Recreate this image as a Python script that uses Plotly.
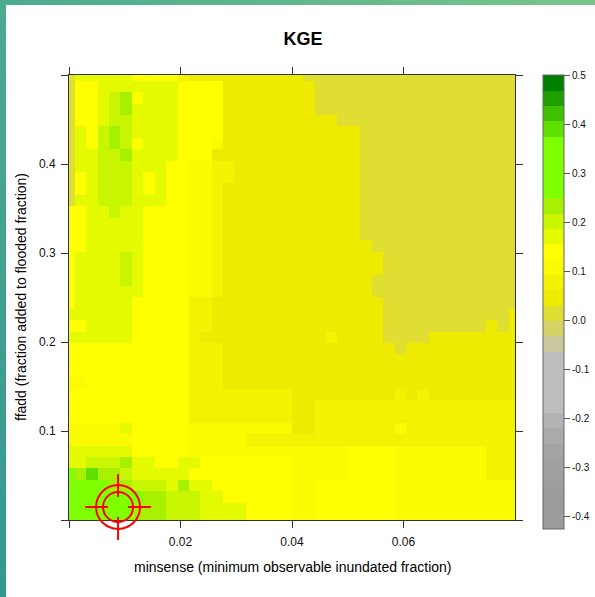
import plotly.graph_objects as go

# ---------------- data ----------------
minsense = [0.0, 0.00205, 0.0041, 0.00615, 0.00821, 0.01026, 0.01231, 0.01436, 0.01641, 0.01846,
            0.02051, 0.02256, 0.02462, 0.02667, 0.02872, 0.03077, 0.03282, 0.03487, 0.03692, 0.03897,
            0.04103, 0.04308, 0.04513, 0.04718, 0.04923, 0.05128, 0.05333, 0.05538, 0.05744, 0.05949,
            0.06154, 0.06359, 0.06564, 0.06769, 0.06974, 0.0718, 0.07385, 0.0759, 0.07795, 0.08]

# rows listed from top (ffadd = 0.5) to bottom (ffadd = 0)
ffadd = [0.5, 0.48718, 0.47436, 0.46154, 0.44872, 0.4359, 0.42308, 0.41026, 0.39744, 0.38462,
         0.37179, 0.35897, 0.34615, 0.33333, 0.32051, 0.30769, 0.29487, 0.28205, 0.26923, 0.25641,
         0.24359, 0.23077, 0.21795, 0.20513, 0.19231, 0.17949, 0.16667, 0.15385, 0.14103, 0.12821,
         0.11538, 0.10256, 0.08974, 0.07692, 0.0641, 0.05128, 0.03846, 0.02564, 0.01282, 0.0]

kge_r39 = [0.02, 0.17, 0.17, 0.17, 0.17, 0.17, 0.14, 0.14, 0.14, 0.14,
           0.08, 0.05, 0.05, 0.05, 0.05, 0.05, 0.05, 0.05, 0.05, 0.05,
           0.05, 0.02, 0.02, 0.02, 0.02, 0.02, 0.02, 0.02, 0.02, 0.02,
           0.02, 0.02, 0.02, 0.02, 0.02, 0.02, 0.02, 0.02, 0.02, 0.02]
kge_r38 = [0.02, 0.14, 0.14, 0.17, 0.17, 0.17, 0.17, 0.17, 0.17, 0.17,
           0.14, 0.14, 0.14, 0.14, 0.05, 0.05, 0.05, 0.05, 0.05, 0.05,
           0.05, 0.05, 0.02, 0.02, 0.02, 0.02, 0.02, 0.02, 0.02, 0.02,
           0.02, 0.02, 0.02, 0.02, 0.02, 0.02, 0.02, 0.02, 0.02, 0.02]
kge_r37 = [0.02, 0.14, 0.14, 0.17, 0.2, 0.24, 0.14, 0.17, 0.17, 0.17,
           0.14, 0.14, 0.14, 0.14, 0.05, 0.05, 0.05, 0.05, 0.05, 0.05,
           0.05, 0.05, 0.02, 0.02, 0.02, 0.02, 0.02, 0.02, 0.02, 0.02,
           0.02, 0.02, 0.02, 0.02, 0.02, 0.02, 0.02, 0.02, 0.02, 0.02]
kge_r36 = [0.02, 0.14, 0.14, 0.17, 0.2, 0.24, 0.17, 0.17, 0.17, 0.17,
           0.14, 0.14, 0.14, 0.14, 0.05, 0.05, 0.05, 0.05, 0.05, 0.05,
           0.05, 0.05, 0.02, 0.02, 0.02, 0.02, 0.02, 0.02, 0.02, 0.02,
           0.02, 0.02, 0.02, 0.02, 0.02, 0.02, 0.02, 0.02, 0.02, 0.02]
kge_r35 = [0.02, 0.14, 0.14, 0.17, 0.2, 0.2, 0.17, 0.17, 0.17, 0.17,
           0.14, 0.14, 0.14, 0.14, 0.05, 0.05, 0.05, 0.05, 0.05, 0.05,
           0.05, 0.05, 0.05, 0.05, 0.02, 0.02, 0.02, 0.02, 0.02, 0.02,
           0.02, 0.02, 0.02, 0.02, 0.02, 0.02, 0.02, 0.02, 0.02, 0.02]
kge_r34 = [0.02, 0.17, 0.14, 0.2, 0.24, 0.2, 0.17, 0.17, 0.17, 0.17,
           0.14, 0.14, 0.14, 0.14, 0.05, 0.05, 0.05, 0.05, 0.05, 0.05,
           0.05, 0.05, 0.05, 0.05, 0.05, 0.05, 0.02, 0.02, 0.02, 0.02,
           0.02, 0.02, 0.02, 0.02, 0.02, 0.02, 0.02, 0.02, 0.02, 0.02]
kge_r33 = [0.02, 0.17, 0.14, 0.2, 0.24, 0.2, 0.14, 0.17, 0.17, 0.17,
           0.14, 0.14, 0.14, 0.11, 0.05, 0.05, 0.05, 0.05, 0.05, 0.05,
           0.05, 0.05, 0.05, 0.05, 0.05, 0.05, 0.02, 0.02, 0.02, 0.02,
           0.02, 0.02, 0.02, 0.02, 0.02, 0.02, 0.02, 0.02, 0.02, 0.02]
kge_r32 = [0.02, 0.17, 0.17, 0.2, 0.2, 0.24, 0.17, 0.17, 0.17, 0.17,
           0.14, 0.14, 0.14, 0.05, 0.05, 0.05, 0.05, 0.05, 0.05, 0.05,
           0.05, 0.05, 0.05, 0.05, 0.05, 0.05, 0.02, 0.02, 0.02, 0.02,
           0.02, 0.02, 0.02, 0.02, 0.02, 0.02, 0.02, 0.02, 0.02, 0.02]
kge_r31 = [0.02, 0.17, 0.17, 0.2, 0.2, 0.2, 0.17, 0.17, 0.17, 0.14,
           0.14, 0.11, 0.11, 0.08, 0.08, 0.05, 0.05, 0.05, 0.05, 0.05,
           0.05, 0.05, 0.05, 0.05, 0.05, 0.05, 0.02, 0.02, 0.02, 0.02,
           0.02, 0.02, 0.02, 0.02, 0.02, 0.02, 0.02, 0.02, 0.02, 0.02]
kge_r30 = [0.02, 0.14, 0.17, 0.2, 0.2, 0.2, 0.17, 0.14, 0.17, 0.14,
           0.14, 0.11, 0.11, 0.08, 0.08, 0.05, 0.05, 0.05, 0.05, 0.05,
           0.05, 0.05, 0.05, 0.05, 0.05, 0.05, 0.02, 0.02, 0.02, 0.02,
           0.02, 0.02, 0.02, 0.02, 0.02, 0.02, 0.02, 0.02, 0.02, 0.02]
kge_r29 = [0.02, 0.14, 0.17, 0.2, 0.2, 0.2, 0.17, 0.14, 0.17, 0.14,
           0.14, 0.11, 0.11, 0.08, 0.05, 0.05, 0.05, 0.05, 0.05, 0.05,
           0.05, 0.05, 0.05, 0.05, 0.05, 0.05, 0.02, 0.02, 0.02, 0.02,
           0.02, 0.02, 0.02, 0.02, 0.02, 0.02, 0.02, 0.02, 0.02, 0.02]
kge_r28 = [0.02, 0.17, 0.17, 0.2, 0.2, 0.2, 0.17, 0.17, 0.17, 0.14,
           0.14, 0.11, 0.11, 0.08, 0.05, 0.05, 0.05, 0.05, 0.05, 0.05,
           0.05, 0.05, 0.05, 0.05, 0.05, 0.05, 0.02, 0.02, 0.02, 0.02,
           0.02, 0.02, 0.02, 0.02, 0.02, 0.02, 0.02, 0.02, 0.02, 0.02]
kge_r27 = [0.14, 0.14, 0.17, 0.17, 0.2, 0.17, 0.17, 0.14, 0.14, 0.14,
           0.14, 0.11, 0.11, 0.08, 0.05, 0.05, 0.05, 0.05, 0.05, 0.05,
           0.05, 0.05, 0.05, 0.05, 0.05, 0.05, 0.02, 0.02, 0.02, 0.02,
           0.02, 0.02, 0.02, 0.02, 0.02, 0.02, 0.02, 0.02, 0.02, 0.02]
kge_r26 = [0.14, 0.14, 0.17, 0.17, 0.17, 0.17, 0.17, 0.14, 0.14, 0.14,
           0.14, 0.11, 0.11, 0.08, 0.05, 0.05, 0.05, 0.05, 0.05, 0.05,
           0.05, 0.05, 0.05, 0.05, 0.05, 0.05, 0.02, 0.02, 0.02, 0.02,
           0.02, 0.02, 0.02, 0.02, 0.02, 0.02, 0.02, 0.02, 0.02, 0.02]
kge_r25 = [0.14, 0.14, 0.17, 0.17, 0.17, 0.17, 0.17, 0.14, 0.14, 0.14,
           0.14, 0.11, 0.11, 0.08, 0.05, 0.05, 0.05, 0.05, 0.05, 0.05,
           0.05, 0.05, 0.05, 0.05, 0.05, 0.05, 0.02, 0.02, 0.02, 0.02,
           0.02, 0.02, 0.02, 0.02, 0.02, 0.02, 0.02, 0.02, 0.02, 0.02]
kge_r24 = [0.14, 0.14, 0.17, 0.17, 0.17, 0.17, 0.17, 0.14, 0.14, 0.14,
           0.14, 0.11, 0.11, 0.08, 0.05, 0.05, 0.05, 0.05, 0.05, 0.05,
           0.05, 0.05, 0.05, 0.05, 0.05, 0.05, 0.05, 0.02, 0.02, 0.02,
           0.02, 0.02, 0.02, 0.02, 0.02, 0.02, 0.02, 0.02, 0.02, 0.02]
kge_r23 = [0.14, 0.17, 0.17, 0.17, 0.17, 0.2, 0.17, 0.14, 0.14, 0.14,
           0.14, 0.11, 0.11, 0.08, 0.05, 0.05, 0.05, 0.05, 0.05, 0.05,
           0.05, 0.05, 0.05, 0.05, 0.05, 0.05, 0.05, 0.05, 0.02, 0.02,
           0.02, 0.02, 0.02, 0.02, 0.02, 0.02, 0.02, 0.02, 0.02, 0.02]
kge_r22 = [0.14, 0.17, 0.17, 0.17, 0.17, 0.2, 0.17, 0.14, 0.14, 0.14,
           0.14, 0.11, 0.11, 0.08, 0.05, 0.05, 0.05, 0.05, 0.05, 0.05,
           0.05, 0.05, 0.05, 0.05, 0.05, 0.05, 0.05, 0.05, 0.02, 0.02,
           0.02, 0.02, 0.02, 0.02, 0.02, 0.02, 0.02, 0.02, 0.02, 0.02]
kge_r21 = [0.14, 0.17, 0.17, 0.17, 0.17, 0.2, 0.17, 0.14, 0.14, 0.14,
           0.14, 0.11, 0.11, 0.08, 0.05, 0.05, 0.05, 0.05, 0.05, 0.05,
           0.05, 0.05, 0.05, 0.05, 0.05, 0.05, 0.05, 0.02, 0.02, 0.02,
           0.02, 0.02, 0.02, 0.02, 0.02, 0.02, 0.02, 0.02, 0.02, 0.02]
kge_r20 = [0.14, 0.17, 0.17, 0.17, 0.17, 0.17, 0.17, 0.14, 0.14, 0.14,
           0.14, 0.11, 0.11, 0.08, 0.05, 0.05, 0.05, 0.05, 0.05, 0.05,
           0.05, 0.05, 0.05, 0.05, 0.05, 0.05, 0.05, 0.02, 0.02, 0.02,
           0.02, 0.02, 0.02, 0.02, 0.02, 0.02, 0.02, 0.02, 0.02, 0.02]
kge_r19 = [0.14, 0.17, 0.17, 0.17, 0.17, 0.17, 0.14, 0.14, 0.14, 0.14,
           0.14, 0.08, 0.08, 0.05, 0.05, 0.05, 0.05, 0.05, 0.05, 0.05,
           0.05, 0.05, 0.05, 0.05, 0.05, 0.05, 0.05, 0.05, 0.02, 0.02,
           0.02, 0.02, 0.02, 0.02, 0.02, 0.02, 0.02, 0.02, 0.02, 0.02]
kge_r18 = [0.17, 0.17, 0.17, 0.17, 0.17, 0.17, 0.14, 0.14, 0.14, 0.14,
           0.14, 0.08, 0.08, 0.05, 0.05, 0.05, 0.05, 0.05, 0.05, 0.05,
           0.05, 0.05, 0.05, 0.05, 0.05, 0.05, 0.05, 0.05, 0.02, 0.02,
           0.02, 0.02, 0.02, 0.02, 0.02, 0.02, 0.02, 0.02, 0.02, 0.05]
kge_r17 = [0.14, 0.14, 0.17, 0.17, 0.17, 0.17, 0.14, 0.14, 0.14, 0.14,
           0.14, 0.08, 0.08, 0.05, 0.05, 0.05, 0.05, 0.05, 0.05, 0.05,
           0.05, 0.05, 0.05, 0.05, 0.05, 0.05, 0.05, 0.05, 0.02, 0.02,
           0.02, 0.02, 0.02, 0.02, 0.02, 0.02, 0.02, 0.05, 0.02, 0.05]
kge_r16 = [0.17, 0.17, 0.17, 0.17, 0.17, 0.17, 0.14, 0.14, 0.14, 0.14,
           0.14, 0.08, 0.05, 0.05, 0.05, 0.05, 0.05, 0.05, 0.05, 0.05,
           0.05, 0.05, 0.05, 0.08, 0.05, 0.05, 0.05, 0.05, 0.02, 0.02,
           0.02, 0.02, 0.05, 0.05, 0.05, 0.05, 0.05, 0.05, 0.05, 0.05]
kge_r15 = [0.14, 0.14, 0.14, 0.14, 0.14, 0.14, 0.14, 0.14, 0.14, 0.14,
           0.14, 0.08, 0.08, 0.08, 0.05, 0.05, 0.05, 0.05, 0.05, 0.05,
           0.05, 0.05, 0.05, 0.05, 0.05, 0.05, 0.05, 0.05, 0.05, 0.02,
           0.05, 0.05, 0.05, 0.05, 0.05, 0.05, 0.05, 0.05, 0.05, 0.05]
kge_r14 = [0.14, 0.14, 0.14, 0.14, 0.14, 0.14, 0.14, 0.14, 0.14, 0.14,
           0.14, 0.08, 0.08, 0.08, 0.05, 0.05, 0.05, 0.05, 0.05, 0.05,
           0.05, 0.05, 0.05, 0.05, 0.05, 0.05, 0.05, 0.05, 0.05, 0.05,
           0.05, 0.05, 0.05, 0.05, 0.05, 0.05, 0.05, 0.05, 0.05, 0.05]
kge_r13 = [0.14, 0.14, 0.14, 0.14, 0.14, 0.14, 0.14, 0.14, 0.14, 0.14,
           0.14, 0.08, 0.08, 0.08, 0.05, 0.05, 0.05, 0.05, 0.05, 0.05,
           0.05, 0.05, 0.05, 0.05, 0.05, 0.05, 0.05, 0.05, 0.05, 0.05,
           0.05, 0.05, 0.05, 0.05, 0.05, 0.05, 0.05, 0.05, 0.05, 0.05]
kge_r12 = [0.11, 0.11, 0.14, 0.14, 0.14, 0.14, 0.14, 0.14, 0.14, 0.14,
           0.14, 0.08, 0.08, 0.08, 0.05, 0.05, 0.05, 0.05, 0.05, 0.05,
           0.05, 0.05, 0.05, 0.05, 0.05, 0.05, 0.05, 0.05, 0.05, 0.05,
           0.05, 0.05, 0.05, 0.05, 0.05, 0.05, 0.05, 0.05, 0.05, 0.05]
kge_r11 = [0.14, 0.14, 0.14, 0.14, 0.14, 0.14, 0.14, 0.14, 0.14, 0.14,
           0.14, 0.08, 0.08, 0.08, 0.08, 0.08, 0.08, 0.08, 0.08, 0.08,
           0.05, 0.05, 0.05, 0.05, 0.05, 0.05, 0.05, 0.05, 0.05, 0.08,
           0.05, 0.08, 0.05, 0.05, 0.05, 0.05, 0.05, 0.05, 0.05, 0.05]
kge_r10 = [0.14, 0.14, 0.14, 0.14, 0.14, 0.14, 0.14, 0.14, 0.14, 0.14,
           0.14, 0.08, 0.08, 0.08, 0.08, 0.08, 0.08, 0.08, 0.08, 0.08,
           0.05, 0.05, 0.08, 0.08, 0.08, 0.08, 0.08, 0.08, 0.08, 0.08,
           0.08, 0.08, 0.08, 0.08, 0.08, 0.08, 0.08, 0.08, 0.08, 0.08]
kge_r09 = [0.14, 0.14, 0.14, 0.14, 0.14, 0.14, 0.14, 0.14, 0.14, 0.14,
           0.14, 0.08, 0.08, 0.08, 0.08, 0.08, 0.08, 0.08, 0.08, 0.08,
           0.05, 0.05, 0.08, 0.08, 0.08, 0.08, 0.08, 0.08, 0.08, 0.08,
           0.08, 0.08, 0.08, 0.08, 0.08, 0.08, 0.08, 0.08, 0.08, 0.08]
kge_r08 = [0.11, 0.11, 0.11, 0.11, 0.11, 0.17, 0.14, 0.14, 0.14, 0.14,
           0.14, 0.11, 0.11, 0.11, 0.11, 0.11, 0.11, 0.11, 0.11, 0.11,
           0.05, 0.05, 0.08, 0.08, 0.08, 0.08, 0.08, 0.08, 0.08, 0.11,
           0.08, 0.08, 0.08, 0.08, 0.08, 0.08, 0.08, 0.08, 0.08, 0.08]
kge_r07 = [0.11, 0.11, 0.11, 0.11, 0.11, 0.11, 0.14, 0.14, 0.14, 0.14,
           0.14, 0.11, 0.11, 0.11, 0.11, 0.11, 0.08, 0.08, 0.08, 0.08,
           0.08, 0.08, 0.08, 0.08, 0.08, 0.08, 0.08, 0.08, 0.08, 0.08,
           0.08, 0.08, 0.08, 0.08, 0.08, 0.08, 0.08, 0.08, 0.08, 0.08]
kge_r06 = [0.17, 0.17, 0.17, 0.17, 0.17, 0.17, 0.14, 0.14, 0.14, 0.14,
           0.14, 0.11, 0.11, 0.11, 0.11, 0.11, 0.11, 0.11, 0.11, 0.11,
           0.11, 0.11, 0.11, 0.11, 0.11, 0.14, 0.14, 0.14, 0.14, 0.11,
           0.11, 0.11, 0.11, 0.11, 0.11, 0.11, 0.11, 0.08, 0.08, 0.08]
kge_r05 = [0.17, 0.17, 0.2, 0.2, 0.2, 0.24, 0.17, 0.17, 0.14, 0.14,
           0.17, 0.17, 0.14, 0.14, 0.14, 0.14, 0.14, 0.14, 0.14, 0.14,
           0.11, 0.11, 0.11, 0.11, 0.11, 0.14, 0.14, 0.14, 0.14, 0.11,
           0.11, 0.11, 0.11, 0.11, 0.11, 0.11, 0.11, 0.08, 0.08, 0.08]
kge_r04 = [0.3, 0.24, 0.39, 0.24, 0.24, 0.2, 0.17, 0.17, 0.17, 0.17,
           0.17, 0.14, 0.14, 0.14, 0.14, 0.14, 0.14, 0.14, 0.14, 0.14,
           0.11, 0.11, 0.11, 0.11, 0.11, 0.14, 0.14, 0.14, 0.14, 0.11,
           0.11, 0.11, 0.11, 0.11, 0.11, 0.11, 0.11, 0.08, 0.08, 0.08]
kge_r03 = [0.3, 0.3, 0.3, 0.3, 0.24, 0.24, 0.2, 0.2, 0.2, 0.17,
           0.24, 0.17, 0.17, 0.14, 0.14, 0.14, 0.14, 0.14, 0.14, 0.14,
           0.11, 0.11, 0.14, 0.14, 0.14, 0.14, 0.14, 0.14, 0.14, 0.11,
           0.11, 0.11, 0.11, 0.11, 0.11, 0.11, 0.11, 0.11, 0.11, 0.11]
kge_r02 = [0.3, 0.3, 0.3, 0.3, 0.3, 0.3, 0.3, 0.24, 0.24, 0.2,
           0.2, 0.2, 0.17, 0.17, 0.14, 0.14, 0.14, 0.14, 0.14, 0.14,
           0.11, 0.11, 0.14, 0.14, 0.14, 0.14, 0.14, 0.14, 0.14, 0.11,
           0.11, 0.11, 0.11, 0.11, 0.11, 0.11, 0.11, 0.11, 0.11, 0.11]
kge_r01 = [0.3, 0.3, 0.3, 0.3, 0.3, 0.3, 0.24, 0.24, 0.24, 0.2,
           0.2, 0.2, 0.17, 0.17, 0.17, 0.17, 0.14, 0.14, 0.14, 0.14,
           0.11, 0.11, 0.14, 0.14, 0.14, 0.14, 0.14, 0.14, 0.14, 0.11,
           0.11, 0.11, 0.11, 0.11, 0.11, 0.11, 0.11, 0.11, 0.11, 0.11]
kge_r00 = [0.3, 0.3, 0.3, 0.3, 0.3, 0.3, 0.24, 0.24, 0.24, 0.2,
           0.2, 0.2, 0.17, 0.17, 0.17, 0.17, 0.14, 0.14, 0.14, 0.14,
           0.11, 0.11, 0.14, 0.14, 0.14, 0.14, 0.14, 0.14, 0.14, 0.11,
           0.11, 0.11, 0.11, 0.11, 0.11, 0.11, 0.11, 0.11, 0.11, 0.11]

kge = [kge_r39, kge_r38, kge_r37, kge_r36, kge_r35, kge_r34, kge_r33, kge_r32, kge_r31, kge_r30,
       kge_r29, kge_r28, kge_r27, kge_r26, kge_r25, kge_r24, kge_r23, kge_r22, kge_r21, kge_r20,
       kge_r19, kge_r18, kge_r17, kge_r16, kge_r15, kge_r14, kge_r13, kge_r12, kge_r11, kge_r10,
       kge_r09, kge_r08, kge_r07, kge_r06, kge_r05, kge_r04, kge_r03, kge_r02, kge_r01, kge_r00]

# colour key: 30 discrete levels (ascending)
level_breaks = [-0.4245, -0.4073, -0.376, -0.3446, -0.3133, -0.282, -0.2506, -0.2193, -0.188, -0.1566,
                -0.1253, -0.094, -0.0627, -0.0313, 0.0, 0.0313, 0.0627, 0.094, 0.1253, 0.1566,
                0.188, 0.2193, 0.2506, 0.282, 0.3133, 0.3446, 0.376, 0.4073, 0.4386, 0.47, 0.502]
level_colors = ['#9c9c9c', '#9c9c9c', '#9c9c9c', '#9e9e9e', '#a0a0a0', '#a4a4a4', '#aaaaaa', '#b3b3b3',
                '#bebebe', '#bebebe', '#bebebe', '#bebebe', '#c9c89c', '#d5d268', '#e0dd33',
                '#eeea00', '#f4f200', '#fafa00', '#ffff00', '#e4fa00', '#c8f500', '#a6f000',
                '#7fff00', '#7fff00', '#7fff00', '#7fff00', '#5fe000', '#3fc000', '#1fa000', '#008000']
key_ticks = [0.5, 0.4, 0.3, 0.2, 0.1, 0.0, -0.1, -0.2, -0.3, -0.4]

x_tickvals = [0.0, 0.02, 0.04, 0.06]
x_ticktext = ['', '0.02', '0.04', '0.06']
y_tickvals = [0.0, 0.1, 0.2, 0.3, 0.4, 0.5]
y_ticktext = ['', '0.1', '0.2', '0.3', '0.4', '']

best_minsense = 0.0088
best_ffadd = 0.0146

x_range = [0.0, 0.08]
y_range = [0.0, 0.5]

# ---------------- figure ----------------
for r in kge:
    assert len(r) == 40, len(r)

zmin, zmax = level_breaks[0], level_breaks[-1]
colorscale = []
for k, col in enumerate(level_colors):
    lo = (level_breaks[k] - zmin) / (zmax - zmin)
    hi = (level_breaks[k + 1] - zmin) / (zmax - zmin)
    colorscale.append([max(0.0, min(1.0, lo)), col])
    colorscale.append([max(0.0, min(1.0, hi)), col])
colorscale[0][0] = 0.0
colorscale[-1][0] = 1.0

FONT = "Liberation Sans, Arial, sans-serif"
W, H = 595, 597
L, R, T, B = 69, 80, 75, 77
PW, PH = W - L - R, H - T - B


def px_x(px):
    return (px - L) / PW


def px_y(py):
    return (H - B - py) / PH


fig = go.Figure()
fig.add_trace(go.Heatmap(
    x=minsense, y=ffadd, z=kge,
    zmin=zmin, zmax=zmax, colorscale=colorscale, zsmooth=False,
    hoverinfo='skip',
    colorbar=dict(
        x=px_x(543), xanchor='left', xpad=0,
        y=1.0, yanchor='top', ypad=0,
        thickness=21, thicknessmode='pixels',
        len=454, lenmode='pixels',
        outlinewidth=1, outlinecolor='#666666',
        tickvals=key_ticks, ticktext=['%.1f' % v for v in key_ticks],
        ticks='outside', ticklen=6, tickcolor='#555555',
        tickfont=dict(family=FONT, size=10, color='#111111'),
    ),
))

# frame (teal-green gradient border at top and left)
shapes = []
c_tl, c_tr, c_bl = (74, 171, 143), (122, 196, 138), (52, 152, 143)
N = 40
for k in range(N):
    t = (k + 0.5) / N
    col = tuple(int(round(c_tl[i] + (c_tr[i] - c_tl[i]) * t)) for i in range(3))
    shapes.append(dict(type='rect', xref='paper', yref='paper', layer='below',
                       x0=px_x(W * k / N), x1=px_x(W * (k + 1) / N + 1),
                       y0=px_y(5), y1=px_y(0), fillcolor='rgb(%d,%d,%d)' % col, line_width=0))
    col2 = tuple(int(round(c_tl[i] + (c_bl[i] - c_tl[i]) * t)) for i in range(3))
    shapes.append(dict(type='rect', xref='paper', yref='paper', layer='below',
                       x0=px_x(0), x1=px_x(6),
                       y0=px_y(H * (k + 1) / N + 1), y1=px_y(H * k / N),
                       fillcolor='rgb(%d,%d,%d)' % col2, line_width=0))

# best-parameter target marker
ax_x = (best_minsense - x_range[0]) / (x_range[1] - x_range[0])
ax_y = (best_ffadd - y_range[0]) / (y_range[1] - y_range[0])
red = dict(color='#ff0000', width=2)
for rr in (22, 15):
    shapes.append(dict(type='circle', xref='x domain', yref='y domain', xsizemode='pixel', ysizemode='pixel',
                       xanchor=ax_x, yanchor=ax_y, x0=-rr, x1=rr, y0=-rr, y1=rr, line=red, layer='above'))
for (x0, x1, y0, y1) in [(-33, -10, 0, 0), (10, 33, 0, 0), (0, 0, -33, -10), (0, 0, 10, 33)]:
    shapes.append(dict(type='line', xref='x domain', yref='y domain', xsizemode='pixel', ysizemode='pixel',
                       xanchor=ax_x, yanchor=ax_y, x0=x0, x1=x1, y0=y0, y1=y1, line=red, layer='above'))

axis_common = dict(showgrid=False, zeroline=False, showline=True, linecolor='#333333', linewidth=1,
                   mirror='ticks', ticks='outside', ticklen=7, tickcolor='#333333', tickwidth=1,
                   tickfont=dict(family=FONT, size=12, color='#111111'))

fig.update_layout(
    width=W, height=H, autosize=False,
    margin=dict(l=L, r=R, t=T, b=B, pad=0, autoexpand=False),
    paper_bgcolor='white', plot_bgcolor='white',
    font=dict(family=FONT, color='#000000'),
    title=dict(text='<b>KGE</b>', x=303 / W, xanchor='center', y=1 - 38.5 / H, yanchor='middle',
               font=dict(family=FONT, size=18, color='#000000')),
    xaxis=dict(range=x_range, tickvals=x_tickvals, ticktext=x_ticktext, ticklabelstandoff=4,
               automargin=False, **axis_common),
    yaxis=dict(range=y_range, tickvals=y_tickvals, ticktext=y_ticktext, ticklabelstandoff=3,
               automargin=False, **axis_common),
    shapes=shapes,
    annotations=[
        dict(text='minsense (minimum observable inundated fraction)', xref='paper', yref='paper',
             x=0.5, y=px_y(567), xanchor='center', yanchor='middle', showarrow=False,
             font=dict(family=FONT, size=14, color='#000000')),
        dict(text='ffadd (fraction added to flooded fraction)', xref='paper', yref='paper',
             x=px_x(20.5), y=0.5, xanchor='center', yanchor='middle', textangle=-90, showarrow=False,
             font=dict(family=FONT, size=14, color='#000000')),
    ],
)

fig.write_html("out.html", config={'displayModeBar': False, 'staticPlot': True},
               post_script="document.body.style.margin='0px';document.body.style.overflow='hidden';")
